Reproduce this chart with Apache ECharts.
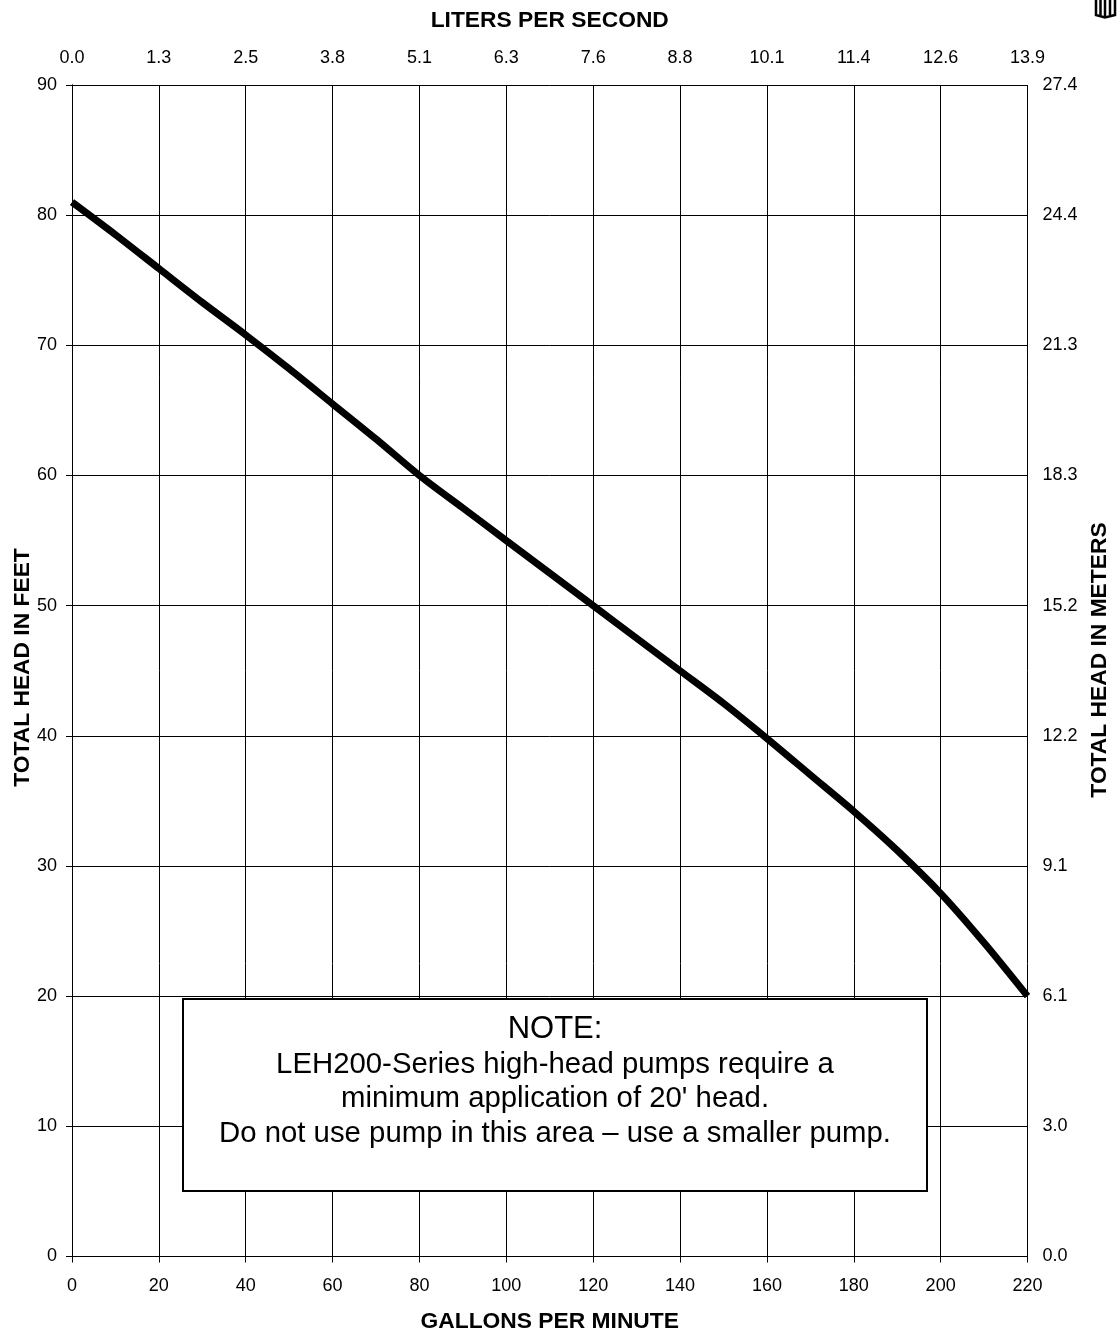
<!DOCTYPE html>
<html><head><meta charset="utf-8"><style>html,body{margin:0;padding:0;background:#fff}#c{width:1118px;height:1342px}</style>
<script src="https://cdn.jsdelivr.net/npm/echarts@6/dist/echarts.min.js"></script></head>
<body><div id="c"></div><script>
const gpmTicks=[0,20,40,60,80,100,120,140,160,180,200,220];
const lpsLabels=['0.0','1.3','2.5','3.8','5.1','6.3','7.6','8.8','10.1','11.4','12.6','13.9'];
const feetTicks=[0,10,20,30,40,50,60,70,80,90];
const meterLabels=['0.0','3.0','6.1','9.1','12.2','15.2','18.3','21.3','24.4','27.4'];
const curveGpm=[0,10,20,30,40,50,60,70,80,90,100,110,120,130,140,150,160,170,180,190,200,210,220];
const curveFeet=[81,78.5,75.9,73.3,70.8,68.2,65.5,62.8,60,57.5,55,52.5,50,47.5,45,42.5,39.8,37,34.2,31.2,27.9,24.1,20];
const noteLines=['NOTE:',"LEH200-Series high-head pumps require a","minimum application of 20' head.","Do not use pump in this area – use a smaller pump."];
const F='"Liberation Sans",Arial,sans-serif';
const chart=echarts.init(document.getElementById('c'),null,{renderer:'canvas'});
const lab={color:'#000',fontFamily:F,fontSize:18};
const nm={color:'#000',fontFamily:F,fontSize:22.8,fontWeight:'bold'};
const line={lineStyle:{color:'#000',width:1}};
const tick={show:true,length:6,...line};
const glyph=[[[1096,0],[1096,15],[1105,17.5],[1115,15],[1115,0]],[[1100.5,0],[1100.5,15]],[[1105,0],[1105,16]],[[1110,0],[1110,15]]];
chart.setOption({animation:false,backgroundColor:'#fff',
grid:{left:72,width:955.5,top:85,height:1171.5,containLabel:false,outerBoundsMode:'none'},
xAxis:[
{type:'value',position:'bottom',min:0,max:220,interval:20,name:'GALLONS PER MINUTE',nameLocation:'middle',nameGap:54,nameTextStyle:nm,axisLine:{show:true,...line},axisTick:tick,axisLabel:{...lab,margin:21,formatter:v=>String(v)},splitLine:{show:true,...line}},
{type:'value',position:'top',min:0,max:220,interval:20,name:'LITERS PER SECOND',nameLocation:'middle',nameGap:53,nameTextStyle:nm,axisLine:{show:true,...line},axisTick:tick,axisLabel:{...lab,margin:18,formatter:v=>lpsLabels[gpmTicks.indexOf(v)]},splitLine:{show:false}}],
yAxis:[
{type:'value',position:'left',min:0,max:90,interval:10,axisLine:{show:true,...line},axisTick:tick,axisLabel:{...lab,margin:15,formatter:v=>String(v)},splitLine:{show:true,...line}},
{type:'value',position:'right',min:0,max:90,interval:10,axisLine:{show:true,...line},axisTick:tick,axisLabel:{...lab,margin:15,formatter:v=>meterLabels[feetTicks.indexOf(v)]},splitLine:{show:false}}],
series:[{type:'line',xAxisIndex:0,yAxisIndex:0,data:curveGpm.map((x,i)=>[x,curveFeet[i]]),smooth:0.3,showSymbol:false,symbol:'none',lineStyle:{color:'#000',width:7,cap:'butt'},clip:true,z:5}],
graphic:[
{type:'rect',z:10,shape:{x:183,y:999,width:744,height:192},style:{fill:'#fff',stroke:'#000',lineWidth:2}},
...noteLines.map((t,i)=>({type:'text',z:11,x:555,y:[1029,1065,1099,1134][i],style:{text:t,align:'center',verticalAlign:'middle',fill:'#000',font:(i==0?'31px ':'29.35px ')+F}})),
{type:'text',z:11,x:22.5,y:667.5,rotation:Math.PI/2,style:{text:'TOTAL HEAD IN FEET',align:'center',verticalAlign:'middle',fill:'#000',font:'bold 22.8px '+F}},
{type:'text',z:11,x:1099.5,y:660,rotation:Math.PI/2,style:{text:'TOTAL HEAD IN METERS',align:'center',verticalAlign:'middle',fill:'#000',font:'bold 22.8px '+F}},
...glyph.map(p=>({type:'polyline',z:11,shape:{points:p},style:{fill:null,stroke:'#000',lineWidth:2.5}}))
]
});
</script></body></html>
